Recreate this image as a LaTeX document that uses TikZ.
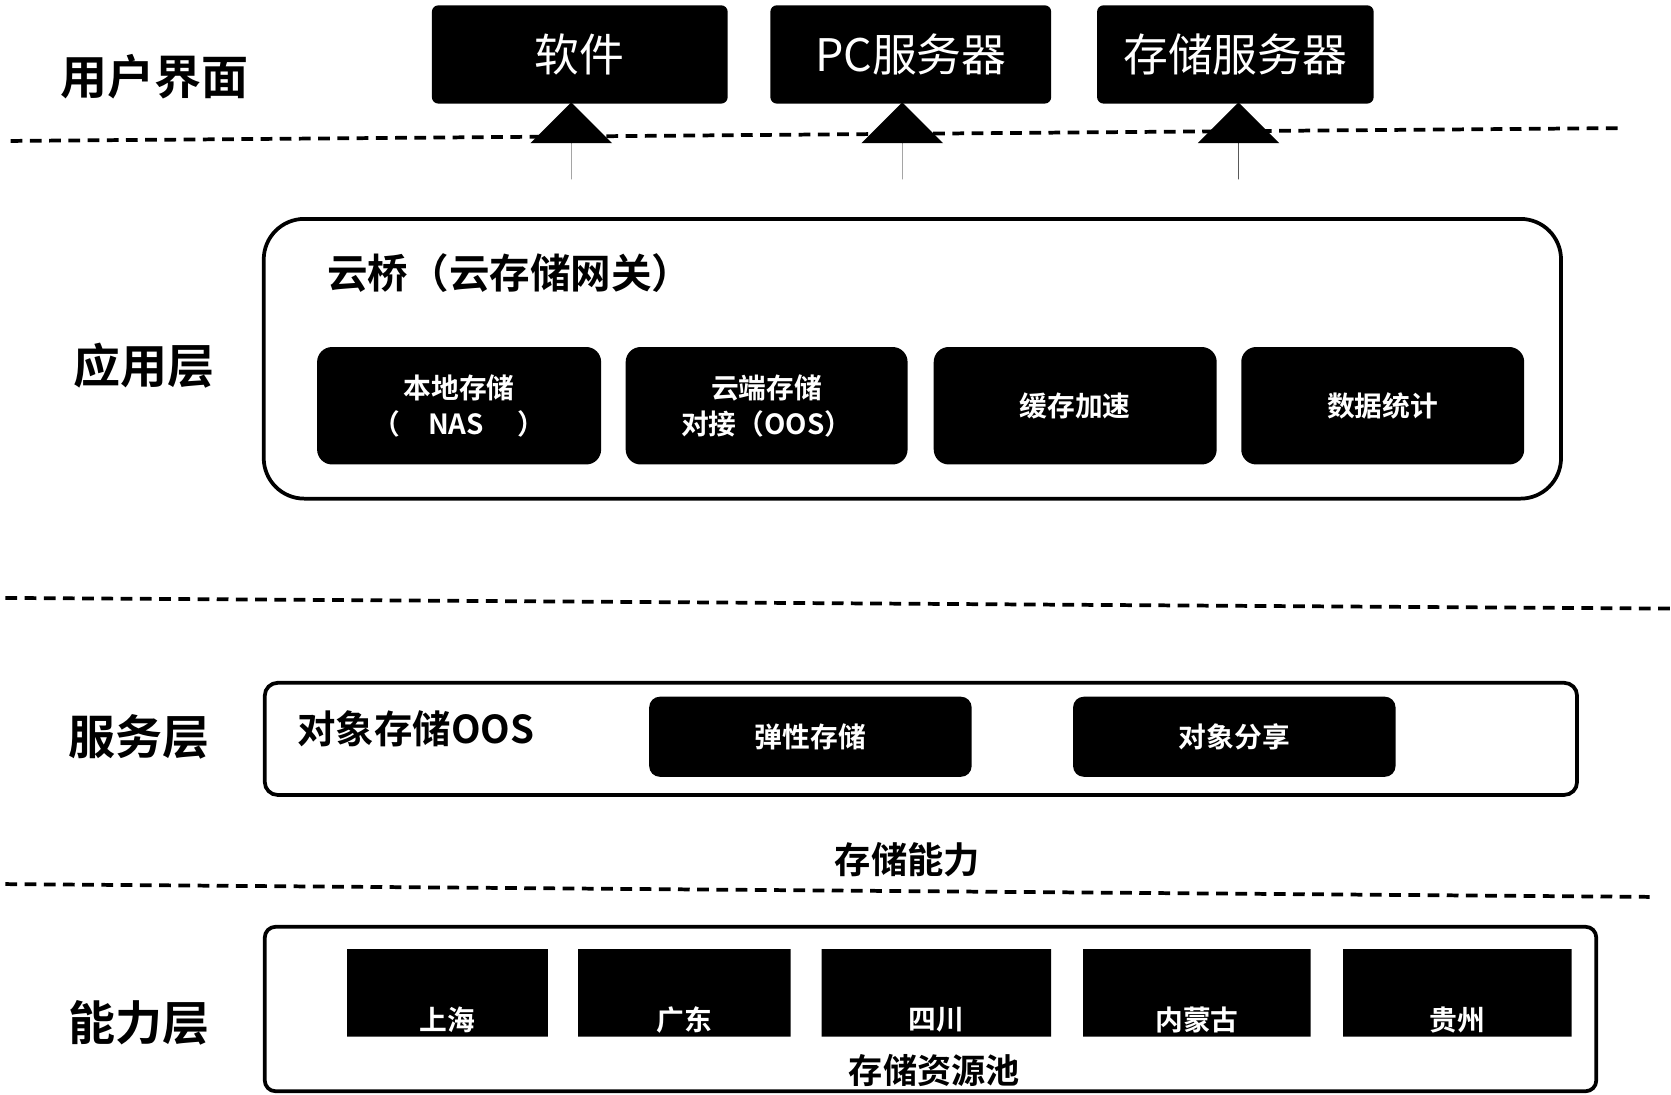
\documentclass[tikz,border=0pt]{standalone}
\usepackage{fontspec}
\setmainfont{Noto Sans CJK SC}
\newfontfamily\cjkb{Noto Sans CJK SC Bold}
\usetikzlibrary{shapes.geometric,shapes.arrows}
\begin{document}
\begin{tikzpicture}[x=1pt,y=-1pt,
  lay/.style={font=\cjkb\fontsize{44}{48}\selectfont, anchor=center},
  topbox/.style={fill=black, rounded corners=6, text=white, font=\fontsize{42}{46}\selectfont, inner sep=0},
  inbox/.style={fill=black, rounded corners=14, text=white, font=\cjkb\fontsize{26}{34}\selectfont, align=center, inner sep=0},
  frame/.style={draw=black, line width=3.5pt, fill=white},
  sep/.style={line width=3.5pt, dash pattern=on 11pt off 7pt},
  uparrow/.style={single arrow, shape border rotate=90, fill=black, minimum width=52, single arrow head extend=38, single arrow head indent=0, minimum height=72, inner sep=0},
  cyl/.style={cylinder, shape border rotate=90, aspect=0.12, fill=black, inner sep=0},
  cyltext/.style={text=white, font=\cjkb\fontsize{26}{30}\selectfont}
]
\useasboundingbox (0,0) rectangle (1565,1025);
% layer labels
\node[lay] (l1) at (145,72) {用户界面};
\node[lay] (l2) at (135,342) {应用层};
\node[lay] (l3) at (130,690) {服务层};
\node[lay] (l4) at (130,958) {能力层};
% separators
\coordinate (s1a) at (10,132); \coordinate (s1b) at (1515,120);
\draw[sep] (s1a) -- (s1b);
\coordinate (s2a) at (5,560); \coordinate (s2b) at (1565,570);
\draw[sep] (s2a) -- (s2b);
\coordinate (s3a) at (5,828); \coordinate (s3b) at (1545,840);
\draw[sep] (s3a) -- (s3b);
% top boxes
\node[topbox, minimum width=277, minimum height=92] (t1) at (543,51) {软件};
\node[topbox, minimum width=263, minimum height=92] (t2) at (853,51) {PC服务器};
\node[topbox, minimum width=259, minimum height=92] (t3) at (1157,51) {存储服务器};
% arrows
\node[uparrow] (a1) at (535,132) {};
\node[uparrow] (a2) at (845,132) {};
\node[uparrow] (a3) at (1160,132) {};
% application layer
\node[frame, rounded corners=38, minimum width=1215, minimum height=262, inner sep=0] (app) at (854.5,336) {};
\node[anchor=west, font=\cjkb\fontsize{38}{42}\selectfont] (appt) at (303,256) {云桥（云存储网关）};
\node[inbox, minimum width=266, minimum height=110] (b1) at (430,380) {本地存储\\（\quad NAS\quad\ ）};
\node[inbox, minimum width=264, minimum height=110] (b2) at (718,380) {云端存储\\对接（OOS）};
\node[inbox, minimum width=265, minimum height=110] (b3) at (1007,380) {缓存加速};
\node[inbox, minimum width=265, minimum height=110] (b4) at (1295,380) {数据统计};
% service layer
\node[frame, rounded corners=12, minimum width=1229, minimum height=105, inner sep=0] (svc) at (862.5,692) {};
\node[anchor=west, font=\cjkb\fontsize{36}{40}\selectfont] (svct) at (275,683) {对象存储OOS};
\node[inbox, rounded corners=10, minimum width=302, minimum height=75] (c1) at (759,690) {弹性存储};
\node[inbox, rounded corners=10, minimum width=302, minimum height=75] (c2) at (1156,690) {对象分享};
% capability text
\node[fill=white, font=\cjkb\fontsize{34}{38}\selectfont, inner xsep=12, inner ysep=6] (cap) at (850,805) {存储能力};
% capability layer
\node[frame, rounded corners=10, minimum width=1247, minimum height=154, inner sep=0] (pool) at (871.5,945) {};
\node[cyl, minimum width=188, minimum height=82] (d1) at (419,930) {};
\node[cyl, minimum width=199, minimum height=82] (d2) at (641,930) {};
\node[cyl, minimum width=215, minimum height=82] (d3) at (877,930) {};
\node[cyl, minimum width=213, minimum height=82] (d4) at (1121,930) {};
\node[cyl, minimum width=214, minimum height=82] (d5) at (1365,930) {};
\node[cyltext] at (419,955) {上海};
\node[cyltext] at (641,955) {广东};
\node[cyltext] at (877,955) {四川};
\node[cyltext] at (1121,955) {内蒙古};
\node[cyltext] at (1365,955) {贵州};
\node[font=\cjkb\fontsize{32}{36}\selectfont] (poolt) at (875,1003) {存储资源池};
\end{tikzpicture}
\end{document}
